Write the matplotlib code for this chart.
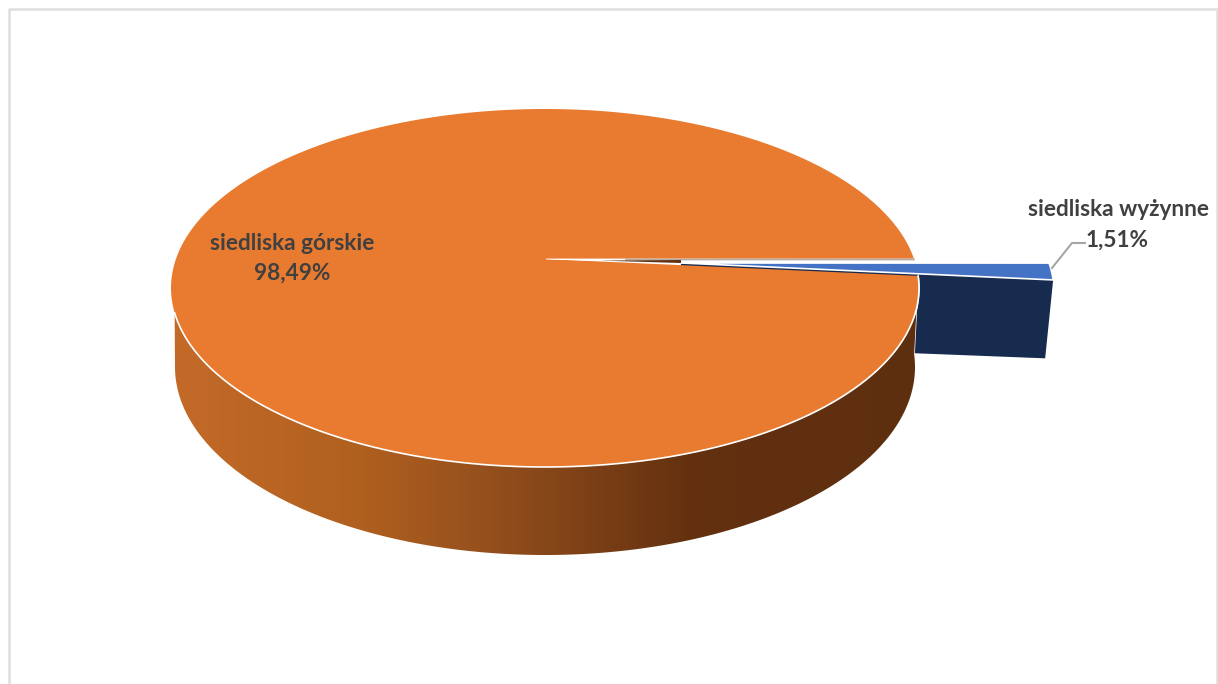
import numpy as np
import matplotlib
matplotlib.use("Agg")
import matplotlib.pyplot as plt
from matplotlib.colors import LinearSegmentedColormap
from matplotlib.patches import Polygon

labels = ["siedliska wyżynne", "siedliska górskie"]
shares = [1.51, 98.49]
share_labels = ["1,51%", "98,49%"]

# geometry of the tilted pie, in pixels
TOP = (545, 288, 374, 179)
BOTTOM = (545, 367, 370, 188)
VERTEX_TOP = np.array([546, 259])
VERTEX_BOTTOM = np.array([546, 340])
START_DEG = 9.3
EXPLODE_TOP = np.array([135, 4])
EXPLODE_BOTTOM = np.array([131, 4])


def ellipse_points(ell, t0, t1, n=300):
    cx, cy, rx, ry = ell
    t = np.radians(np.linspace(t0, t1, n))
    return np.column_stack([cx + rx * np.cos(t), cy - ry * np.sin(t)])


def main():
    fig = plt.figure(figsize=(12.18, 6.84), dpi=100)
    ax = fig.add_axes([0, 0, 1, 1])
    ax.set_xlim(0, 1218)
    ax.set_ylim(684, 0)
    ax.axis("off")

    # chart frame
    ax.plot([9, 9, 1217, 1217], [684, 9, 9, 684], color="#DEDEDE", lw=1.8)

    sweep = shares[0] / sum(shares) * 360
    end_deg = START_DEG - sweep

    # cut face of the pulled out slice
    top_tip = ellipse_points(TOP, end_deg, end_deg, 1)[0] + EXPLODE_TOP
    bottom_tip = ellipse_points(BOTTOM, end_deg, end_deg, 1)[0] + EXPLODE_BOTTOM
    ax.add_patch(Polygon([VERTEX_TOP + EXPLODE_TOP, top_tip, bottom_tip, VERTEX_BOTTOM + EXPLODE_BOTTOM],
                         facecolor="#172B4F", edgecolor="none", zorder=1))

    # side wall with the horizontal shading
    front_top = ellipse_points(TOP, 188, 360 + end_deg)
    front_bottom = ellipse_points(BOTTOM, 360 + end_deg, 180)
    side = Polygon(np.vstack([front_top, front_bottom]), facecolor="none", edgecolor="white", lw=1, zorder=2)
    ax.add_patch(side)
    cmap = LinearSegmentedColormap.from_list(
        "side", [(0, "#C46A28"), (0.25, "#B0601F"), (0.42, "#95501D"), (0.7, "#63300F"), (1, "#5E2F10")])
    grad = ax.imshow(np.linspace(0, 1, 256).reshape(1, -1), cmap=cmap, aspect="auto",
                     extent=(171, 919, 560, 280), zorder=2)
    grad.set_clip_path(side)
    ax.set_xlim(0, 1218)
    ax.set_ylim(684, 0)

    # top face of the big slice
    rim = ellipse_points(TOP, START_DEG, end_deg + 360)
    ax.add_patch(Polygon(np.vstack([VERTEX_TOP, rim]), facecolor="#E97B30", edgecolor="none", zorder=3))
    ax.plot(*ellipse_points(TOP, 188, 360 + end_deg).T, color="white", lw=1.2, zorder=3)

    # the gap left by the small slice
    gap_a = ellipse_points(TOP, START_DEG, START_DEG, 1)[0]
    tip = VERTEX_TOP + EXPLODE_TOP
    ax.add_patch(Polygon([VERTEX_TOP, gap_a, tip], facecolor="white", edgecolor="white", lw=0.6, zorder=4))
    ax.plot([VERTEX_TOP[0] + 80, gap_a[0]], [VERTEX_TOP[1] + 0.5, gap_a[1] + 0.5], color="#B5ABA2", lw=1.2, zorder=4)
    ax.add_patch(Polygon([VERTEX_TOP + 0.4 * EXPLODE_TOP, tip, tip + [0, -3]],
                         facecolor="#5E2F10", edgecolor="none", zorder=4))

    # top face of the small slice
    small = ellipse_points(TOP, START_DEG, end_deg, 20) + EXPLODE_TOP
    ax.add_patch(Polygon(np.vstack([tip, small]), facecolor="#4472C4", edgecolor="white", lw=1.2, zorder=5))

    # leader line
    ax.plot([1052, 1072, 1085], [268, 243, 243], color="#A6A6A6", lw=1.5, zorder=6)

    ax.text(1118, 210, labels[0], family="Lato", weight="bold", fontsize=16.3, color="#404040",
            ha="center", va="center", zorder=7)
    ax.text(1117, 240, share_labels[0], family="Lato", weight="bold", fontsize=16.3, color="#404040",
            ha="center", va="center", zorder=7)
    ax.text(292, 244, labels[1], family="Lato", weight="bold", fontsize=16.3, color="#404040",
            ha="center", va="center", zorder=7)
    ax.text(292, 273, share_labels[1], family="Lato", weight="bold", fontsize=16.3, color="#404040",
            ha="center", va="center", zorder=7)

    fig.savefig("out.png", dpi=100)


if __name__ == "__main__":
    main()
